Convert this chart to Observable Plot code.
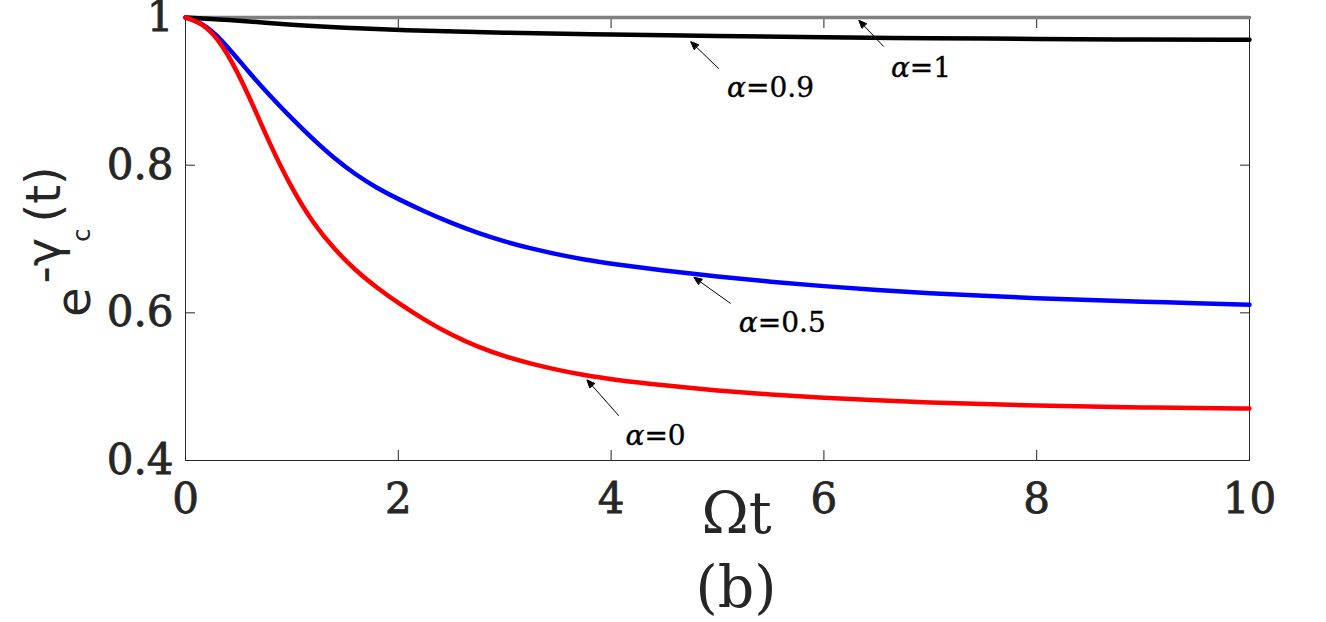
<!DOCTYPE html>
<html><head><meta charset="utf-8">
<script src="https://cdn.jsdelivr.net/npm/d3@7"></script>
<script src="https://cdn.jsdelivr.net/npm/@observablehq/plot@0.6"></script>
<style>
body{margin:0;background:#fff;overflow:hidden;width:1326px;height:622px;position:relative}
#cap{position:absolute;left:736px;top:559px;transform:translateX(-50%);font-family:"DejaVu Serif";font-size:57px;line-height:1;color:#262626;white-space:nowrap}
g[aria-label$="tick label"] text{stroke:#262626;stroke-width:0.8px;paint-order:stroke}
g.alabel text{stroke:#000;stroke-width:0.35px;paint-order:stroke}
</style></head>
<body><div id="chart"></div><div id="cap">(b)</div>
<script>
// Tick values
const xTicks = [0, 2, 4, 6, 8, 10];
const yTicks = [0.4, 0.6, 0.8, 1];

// α = 0 (red)
const a0T = [0, 0.2, 0.4, 0.6, 0.8, 1.0, 1.2, 1.4, 1.6, 1.8, 2.0, 2.25, 2.5, 2.75, 3.0, 3.25, 3.5, 3.75, 4.0, 4.5, 5.0, 5.5, 6.0, 6.5, 7.0, 7.5, 8.0, 8.5, 9.0, 9.5, 10];
const a0V = [1.000, 0.990, 0.952, 0.893, 0.826, 0.768, 0.721, 0.686, 0.657, 0.634, 0.613, 0.590, 0.570, 0.5535, 0.541, 0.531, 0.5225, 0.5155, 0.510, 0.5015, 0.4947, 0.4893, 0.4849, 0.4814, 0.4786, 0.4764, 0.4745, 0.4731, 0.4719, 0.4710, 0.4705];

// α = 0.5 (blue)
const a5T = [0, 0.2, 0.4, 0.6, 0.8, 1.0, 1.2, 1.4, 1.6, 1.8, 2.0, 2.25, 2.5, 2.75, 3.0, 3.25, 3.5, 3.75, 4.0, 4.5, 5.0, 5.5, 6.0, 6.5, 7.0, 7.5, 8.0, 8.5, 9.0, 9.5, 10];
const a5V = [1.000, 0.990, 0.960, 0.925, 0.893, 0.863, 0.835, 0.809, 0.787, 0.769, 0.754, 0.737, 0.7215, 0.708, 0.6965, 0.687, 0.679, 0.672, 0.6665, 0.657, 0.649, 0.642, 0.636, 0.631, 0.6265, 0.623, 0.6198, 0.6172, 0.6151, 0.613, 0.611];

// α = 0.9 (black)
const a9T = [0, 0.5, 1.0, 1.5, 2.0, 3.0, 4.0, 5.0, 6.0, 7.0, 8.0, 9.0, 10];
const a9V = [1.000, 0.996, 0.990, 0.986, 0.983, 0.979, 0.977, 0.975, 0.973, 0.972, 0.971, 0.970, 0.970];

// α = 1 (grey)
const a1T = [0, 10];
const a1V = [1, 1];

// Annotations
const labelText = ["α=0", "α=0.5", "α=0.9", "α=1"];
const labelT = [4.135, 5.20, 5.09, 6.63];
const labelV = [0.433, 0.586, 0.904, 0.932];
const tailT = [4.07, 5.12, 5.01, 6.56];
const tailV = [0.461, 0.613, 0.931, 0.961];
const headT = [3.775, 4.78, 4.75, 6.33];
const headV = [0.509, 0.648, 0.967, 0.996];

const toRows = (T, V) => T.map((t, i) => ({t, v: V[i]}));
const ann = labelText.map((s, i) => ({s, t: labelT[i], v: labelV[i], t1: tailT[i], v1: tailV[i], t2: headT[i], v2: headV[i]}));

const ink = "#262626";
const plot = Plot.plot({
  width: 1326,
  height: 548,
  marginLeft: 185,
  marginRight: 77,
  marginTop: 17,
  marginBottom: 88,
  style: {fontFamily: "DejaVu Serif", background: "white", color: ink},
  x: {domain: [0, 10]},
  y: {domain: [0.4, 1]},
  marks: [
    Plot.frame({stroke: ink, strokeWidth: 1}),
    Plot.axisY({anchor: "left", ticks: yTicks, tickSize: -10, tickPadding: 22, fontSize: 42, label: null, stroke: ink, fill: ink,
      tickFormat: d => d === 1 ? "1" : d.toFixed(1)}),
    Plot.axisX({anchor: "bottom", ticks: xTicks, tickSize: -10, tickPadding: 33, fontSize: 42, label: null, stroke: ink, fill: ink,
      tickFormat: d => String(d)}),
    Plot.axisY({anchor: "right", ticks: yTicks, tickSize: -10, label: null, stroke: ink, tickFormat: () => ""}),
    Plot.axisX({anchor: "top", ticks: xTicks, tickSize: -10, label: null, stroke: ink, tickFormat: () => ""}),
    Plot.line(toRows(a1T, a1V), {x: "t", y: "v", stroke: "#808080", strokeWidth: 3.5}),
    Plot.line(toRows(a9T, a9V), {x: "t", y: "v", stroke: "#000000", strokeWidth: 4.5, curve: "basis"}),
    Plot.line(toRows(a5T, a5V), {x: "t", y: "v", stroke: "#0000ff", strokeWidth: 4.5, curve: "basis"}),
    Plot.line(toRows(a0T, a0V), {x: "t", y: "v", stroke: "#ff0000", strokeWidth: 4.5, curve: "basis"}),
    Plot.arrow(ann, {x1: "t1", y1: "v1", x2: "t2", y2: "v2", stroke: "black", strokeWidth: 1, headLength: 12, headAngle: 45, className: "annarrow"}),
    Plot.text(ann, {x: "t", y: "v", text: "s", textAnchor: "start", lineAnchor: "middle", fontSize: 28, fill: "black", className: "alabel"}),
    Plot.text(["Ωt"], {frameAnchor: "bottom", dx: 19, dy: 54, lineAnchor: "middle", fontSize: 57, fill: ink})
  ]
});
document.getElementById("chart").appendChild(plot);

// Filled arrowheads (built from the arrow paths Plot drew)
d3.select(plot).selectAll(".annarrow path").each(function () {
  const nums = (this.getAttribute("d").match(/-?\d*\.?\d+(?:e-?\d+)?/g) || []).map(Number);
  if (nums.length < 6) return;
  const p = nums.slice(-6);
  d3.select(this.parentNode).append("path")
    .attr("d", `M${p[0]},${p[1]}L${p[2]},${p[3]}L${p[4]},${p[5]}Z`)
    .attr("fill", "black").attr("stroke", "black").attr("stroke-width", 1);
});

// Italic α in the curve labels
d3.select(plot).selectAll(".alabel text").each(function () {
  const s = this.textContent;
  this.textContent = "";
  d3.select(this).append("tspan").attr("font-style", "italic").text(s.slice(0, 1));
  d3.select(this).append("tspan").text(s.slice(1));
});

// Y-axis label e^{-γ_c}(t)
const yl = d3.select(plot).append("text")
  .attr("transform", "translate(90,317) rotate(-90)")
  .attr("text-anchor", "start")
  .attr("font-family", "DejaVu Sans")
  .attr("fill", ink)
  .attr("font-size", 48);
yl.append("tspan").text("e");
yl.append("tspan").attr("dx", 4).attr("dy", -30).text("-γ");
yl.append("tspan").attr("font-size", 24).attr("dx", -4).attr("dy", 30).text("c");
yl.append("tspan").attr("dx", 6).attr("dy", -30).text("(t)");
</script>
</body></html>
